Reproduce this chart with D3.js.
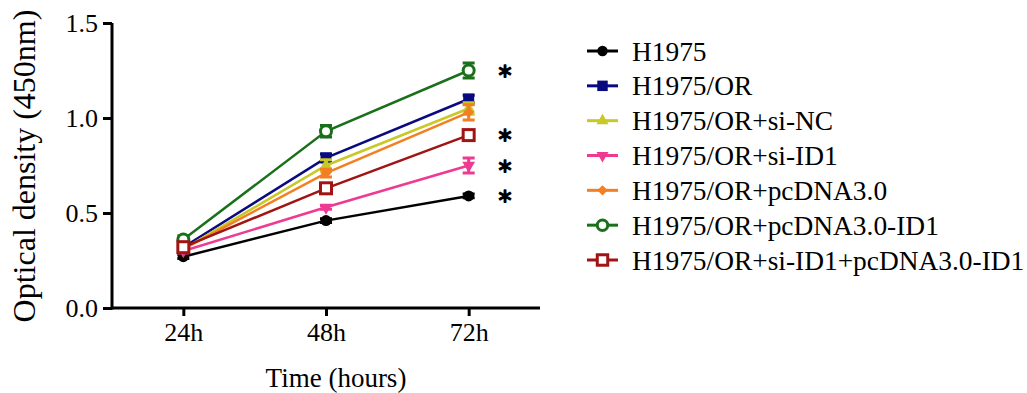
<!DOCTYPE html>
<html><head><meta charset="utf-8">
<script src="https://cdn.jsdelivr.net/npm/d3@7"></script>
<style>body{margin:0;background:#fff}svg{display:block}</style>
</head><body>
<script>
const timePoints = ["24h", "48h", "72h"];
const seriesNames = ["H1975", "H1975/OR", "H1975/OR+si-NC", "H1975/OR+si-ID1", "H1975/OR+pcDNA3.0", "H1975/OR+pcDNA3.0-ID1", "H1975/OR+si-ID1+pcDNA3.0-ID1"];
const h1975 = [0.27, 0.46, 0.59];
const h1975OR = [0.32, 0.79, 1.10];
const siNC = [0.31, 0.75, 1.05];
const siID1 = [0.30, 0.53, 0.75];
const pcDNA = [0.31, 0.71, 1.03];
const pcDNAID1 = [0.36, 0.93, 1.25];
const siID1pcDNAID1 = [0.32, 0.63, 0.91];
const errH1975 = [0.01, 0.01, 0.01];
const errOR = [0.01, 0.02, 0.02];
const errSiNC = [0.01, 0.03, 0.03];
const errSiID1 = [0.01, 0.01, 0.04];
const errPc = [0.01, 0.02, 0.04];
const errPcID1 = [0.02, 0.03, 0.04];
const errBoth = [0.01, 0.02, 0.02];
const yTicks = [0.0, 0.5, 1.0, 1.5];
const starSeries = ["H1975/OR+pcDNA3.0-ID1", "H1975/OR+si-ID1+pcDNA3.0-ID1", "H1975/OR+si-ID1", "H1975"];
const colors = ["#000000", "#0a0a80", "#c8c828", "#ee3a92", "#f47f22", "#1a701a", "#a01414"];
const shapes = ["circle", "square", "triangle", "triangleDown", "diamond", "openCircle", "openSquare"];

const values = [h1975, h1975OR, siNC, siID1, pcDNA, pcDNAID1, siID1pcDNAID1];
const errors = [errH1975, errOR, errSiNC, errSiID1, errPc, errPcID1, errBoth];
const series = seriesNames.map((n, i) => ({name: n, color: colors[i], shape: shapes[i],
  pts: timePoints.map((t, j) => ({t, v: values[i][j], e: errors[i][j]}))}));

const W = 1027, H = 393;
const svg = d3.select("body").append("svg").attr("width", W).attr("height", H);
const x = d3.scalePoint().domain(timePoints).range([112, 540]).padding(0.5);
const y = d3.scaleLinear().domain([0, 1.5]).range([308, 23]);
const serif = "'Liberation Serif','Times New Roman',serif";

// axes
const yAxis = svg.append("g").attr("transform", "translate(112,0)")
  .call(d3.axisLeft(y).tickValues(yTicks).tickFormat(d3.format(".1f")).tickSize(9).tickSizeOuter(0));
const xAxis = svg.append("g").attr("transform", "translate(0,308)")
  .call(d3.axisBottom(x).tickSize(8).tickSizeOuter(0));
[yAxis, xAxis].forEach(g => {
  g.select(".domain").attr("stroke", "#000").attr("stroke-width", 3);
  g.selectAll(".tick line").attr("stroke", "#000").attr("stroke-width", 3);
  g.selectAll(".tick text").attr("font-family", serif).attr("font-size", 26).attr("fill", "#000");
});
yAxis.selectAll(".tick text").attr("x", -14).attr("dy", "0.34em");
xAxis.selectAll(".tick text").attr("y", 15);
xAxis.select(".domain").attr("d", "M112,0H540");
yAxis.select(".domain").attr("d", "M0,23V309.5");

svg.append("text").attr("x", 336).attr("y", 387).attr("text-anchor", "middle")
  .attr("font-family", serif).attr("font-size", 27).text("Time (hours)");
svg.append("text").attr("transform", "translate(35,166) rotate(-90)").attr("text-anchor", "middle")
  .attr("font-family", serif).attr("font-size", 32).text("Optical density (450nm)");

function drawMarker(g, shape, color, cx, cy, scale) {
  const s = scale || 1;
  if (shape === "circle") g.append("circle").attr("cx", cx).attr("cy", cy).attr("r", 5.5 * s).attr("fill", color);
  else if (shape === "square") g.append("rect").attr("x", cx - 5.5 * s).attr("y", cy - 5.5 * s).attr("width", 11 * s).attr("height", 11 * s).attr("fill", color);
  else if (shape === "triangle") g.append("path").attr("transform", `translate(${cx},${cy})`).attr("d", d3.symbol(d3.symbolTriangle, 70 * s * s)()).attr("fill", color);
  else if (shape === "triangleDown") g.append("path").attr("transform", `translate(${cx},${cy}) rotate(180)`).attr("d", d3.symbol(d3.symbolTriangle, 70 * s * s)()).attr("fill", color);
  else if (shape === "diamond") g.append("path").attr("transform", `translate(${cx},${cy}) rotate(45)`).attr("d", d3.symbol(d3.symbolSquare, 60 * s * s)()).attr("fill", color);
  else if (shape === "openCircle") g.append("circle").attr("cx", cx).attr("cy", cy).attr("r", 5.5 * s).attr("fill", "#fff").attr("stroke", color).attr("stroke-width", 3);
  else if (shape === "openSquare") g.append("rect").attr("x", cx - 5.5 * s).attr("y", cy - 5.5 * s).attr("width", 11 * s).attr("height", 11 * s).attr("fill", "#fff").attr("stroke", color).attr("stroke-width", 3);
}

const line = d3.line().x(d => x(d.t)).y(d => y(d.v));
const plot = svg.append("g");
series.forEach(s => {
  const g = plot.append("g");
  g.append("path").datum(s.pts).attr("d", line).attr("fill", "none").attr("stroke", s.color).attr("stroke-width", 2.5);
  s.pts.forEach(p => {
    const cx = x(p.t);
    g.append("path").attr("d", `M${cx},${y(p.v + p.e)}V${y(p.v - p.e)}M${cx - 6},${y(p.v + p.e)}H${cx + 6}M${cx - 6},${y(p.v - p.e)}H${cx + 6}`)
      .attr("stroke", s.color).attr("stroke-width", 3).attr("fill", "none");
    drawMarker(g, s.shape, s.color, cx, y(p.v));
  });
});

// significance asterisks
starSeries.forEach(n => {
  const s = series.find(d => d.name === n);
  const v = s.pts[2].v;
  svg.append("text").attr("x", 505).attr("y", y(v) + 14).attr("text-anchor", "middle")
    .attr("font-family", "'DejaVu Sans',sans-serif").attr("font-size", 26)
    .attr("stroke", "#000").attr("stroke-width", 1.4).attr("stroke-linejoin", "round").text("*");
});

// legend
const leg = svg.append("g");
const rowY = d3.scalePoint().domain(seriesNames).range([51, 260]);
series.forEach(s => {
  const cy = rowY(s.name);
  leg.append("line").attr("x1", 587).attr("x2", 618).attr("y1", cy).attr("y2", cy).attr("stroke", s.color).attr("stroke-width", 3);
  drawMarker(leg, s.shape, s.color, 602.5, cy, 0.95);
  leg.append("text").attr("x", 632).attr("y", cy).attr("dy", "0.35em").attr("font-family", serif).attr("font-size", 27.4).text(s.name);
});
</script>
</body></html>
